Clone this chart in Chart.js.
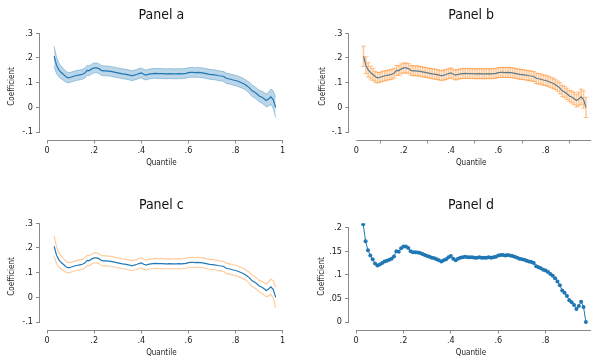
<!DOCTYPE html>
<html>
<head>
<meta charset="utf-8">
<title>Quantile coefficients</title>
<script src="https://cdn.jsdelivr.net/npm/chart.js@4.4.0/dist/chart.umd.min.js"></script>
<style>
  body { margin: 0; width: 591px; height: 356px; overflow: hidden; background: #fff; position: relative; }
  .panel { position: absolute; }
</style>
</head>
<body>
<div class="panel" style="left:0;top:0"><canvas id="panelA" width="295" height="178"></canvas></div>
<div class="panel" style="left:295px;top:0"><canvas id="panelB" width="310" height="178"></canvas></div>
<div class="panel" style="left:0;top:190px"><canvas id="panelC" width="295" height="178"></canvas></div>
<div class="panel" style="left:295px;top:190px"><canvas id="panelD" width="310" height="178"></canvas></div>
<script>
// quantile grid
const quantiles = [
  0.03, 0.04, 0.05, 0.06, 0.07, 0.08, 0.09, 0.10, 0.11, 0.12,
  0.13, 0.14, 0.15, 0.16, 0.17, 0.18, 0.19, 0.20, 0.21, 0.22,
  0.23, 0.24, 0.25, 0.26, 0.27, 0.28, 0.29, 0.30, 0.31, 0.32,
  0.33, 0.34, 0.35, 0.36, 0.37, 0.38, 0.39, 0.40, 0.41, 0.42,
  0.43, 0.44, 0.45, 0.46, 0.47, 0.48, 0.49, 0.50, 0.51, 0.52,
  0.53, 0.54, 0.55, 0.56, 0.57, 0.58, 0.59, 0.60, 0.61, 0.62,
  0.63, 0.64, 0.65, 0.66, 0.67, 0.68, 0.69, 0.70, 0.71, 0.72,
  0.73, 0.74, 0.75, 0.76, 0.77, 0.78, 0.79, 0.80, 0.81, 0.82,
  0.83, 0.84, 0.85, 0.86, 0.87, 0.88, 0.89, 0.90, 0.91, 0.92,
  0.93, 0.94, 0.95, 0.96, 0.97
];

// point estimate
const coef = [
  0.207, 0.171, 0.152, 0.141, 0.133, 0.124, 0.120, 0.122, 0.125, 0.128,
  0.130, 0.132, 0.134, 0.139, 0.150, 0.149, 0.156, 0.160, 0.160, 0.157,
  0.150, 0.148, 0.148, 0.147, 0.146, 0.144, 0.142, 0.140, 0.138, 0.136,
  0.135, 0.133, 0.131, 0.128, 0.131, 0.133, 0.137, 0.140, 0.134, 0.131,
  0.134, 0.136, 0.137, 0.138, 0.137, 0.137, 0.137, 0.136, 0.136, 0.137,
  0.136, 0.136, 0.136, 0.137, 0.136, 0.137, 0.138, 0.141, 0.142, 0.142,
  0.141, 0.142, 0.141, 0.140, 0.138, 0.136, 0.134, 0.133, 0.132, 0.130,
  0.128, 0.127, 0.125, 0.118, 0.116, 0.114, 0.111, 0.109, 0.106, 0.102,
  0.098, 0.093, 0.086, 0.078, 0.067, 0.062, 0.055, 0.046, 0.042, 0.036,
  0.028, 0.034, 0.043, 0.032, 0.000
];

// confidence interval, lower bound
const ciLow = [
  0.166, 0.137, 0.123, 0.115, 0.109, 0.102, 0.099, 0.102, 0.105, 0.108,
  0.110, 0.112, 0.114, 0.119, 0.130, 0.129, 0.136, 0.140, 0.140, 0.137,
  0.130, 0.128, 0.128, 0.127, 0.126, 0.124, 0.122, 0.120, 0.118, 0.116,
  0.115, 0.113, 0.111, 0.108, 0.111, 0.113, 0.117, 0.120, 0.114, 0.111,
  0.114, 0.116, 0.117, 0.118, 0.117, 0.117, 0.117, 0.116, 0.116, 0.117,
  0.116, 0.116, 0.116, 0.117, 0.116, 0.117, 0.118, 0.121, 0.122, 0.122,
  0.121, 0.122, 0.121, 0.120, 0.118, 0.116, 0.114, 0.113, 0.112, 0.110,
  0.108, 0.107, 0.105, 0.097, 0.095, 0.093, 0.090, 0.088, 0.085, 0.081,
  0.077, 0.072, 0.065, 0.055, 0.044, 0.039, 0.032, 0.023, 0.018, 0.011,
  0.002, 0.006, 0.012, -0.003, -0.041
];

// confidence interval, upper bound
const ciHigh = [
  0.248, 0.205, 0.181, 0.167, 0.157, 0.146, 0.141, 0.142, 0.145, 0.148,
  0.150, 0.152, 0.154, 0.159, 0.170, 0.169, 0.176, 0.180, 0.180, 0.177,
  0.170, 0.168, 0.168, 0.167, 0.166, 0.164, 0.162, 0.160, 0.158, 0.156,
  0.155, 0.153, 0.151, 0.148, 0.151, 0.153, 0.157, 0.160, 0.154, 0.151,
  0.154, 0.156, 0.157, 0.158, 0.157, 0.157, 0.157, 0.156, 0.156, 0.157,
  0.156, 0.156, 0.156, 0.157, 0.156, 0.157, 0.158, 0.161, 0.162, 0.162,
  0.161, 0.162, 0.161, 0.160, 0.158, 0.156, 0.154, 0.153, 0.152, 0.150,
  0.148, 0.147, 0.145, 0.139, 0.137, 0.135, 0.132, 0.130, 0.127, 0.123,
  0.119, 0.114, 0.107, 0.101, 0.090, 0.085, 0.078, 0.069, 0.066, 0.061,
  0.054, 0.062, 0.074, 0.067, 0.041
];

const xTicks = [0, 0.2, 0.4, 0.6, 0.8, 1];
const yTicks = [-0.1, 0, 0.1, 0.2, 0.3];
const yTicksD = [0, 0.05, 0.1, 0.15, 0.2];

const FONT = "'Liberation Sans Narrow', 'Arial Narrow', 'DejaVu Sans Condensed', sans-serif";
const TXT = '#222';
const AXIS = '#8a8a8a';
const BLUE = '#1f77b4';
const BAND_FILL = 'rgba(31,119,180,0.30)';
const BAND_EDGE = 'rgba(31,119,180,0.35)';
const ORANGE = 'rgba(255,127,14,0.40)';

const pts = ys => quantiles.map((q, i) => ({ x: q, y: ys[i] }));

// stata style numbers: .2, -.1, 0, 1
const stataNum = v => (v === 0 ? '0' : String(v).replace('0.', '.'));

// axis lines only span the tick range, like stata
const axisLines = {
  id: 'axisLines',
  afterDraw(chart) {
    const { ctx, chartArea, scales: { x, y } } = chart;
    const xs = x.ticks.map(t => x.getPixelForValue(t.value));
    const ys = y.ticks.map(t => y.getPixelForValue(t.value));
    const left = Math.round(chartArea.left) - 0.5;
    const bottom = Math.round(chartArea.bottom) + 0.5;
    ctx.save();
    ctx.strokeStyle = AXIS;
    ctx.lineWidth = 1;
    ctx.beginPath();
    ctx.moveTo(left, Math.min(...ys));
    ctx.lineTo(left, Math.max(...ys));
    ctx.moveTo(Math.min(...xs), bottom);
    ctx.lineTo(Math.max(...xs), bottom);
    ctx.stroke();
    ctx.restore();
  }
};

function makeOptions(p) {
  return {
    responsive: false,
    animation: false,
    layout: { padding: { left: 0, right: p.right, top: 0, bottom: 0 } },
    plugins: {
      legend: { display: false },
      tooltip: { enabled: false },
      title: {
        display: true, text: p.title, fullSize: false, color: '#111',
        font: { family: FONT, size: 14, weight: 'normal' },
        padding: { top: 6.6, bottom: 9.9 }
      }
    },
    scales: {
      x: {
        type: 'linear', min: -0.03, max: 1, offset: false,
        afterBuildTicks: s => { s.ticks = xTicks.map(v => ({ value: v })); },
        afterFit: s => { s.height = 38.5; },
        grid: { drawOnChartArea: false, tickLength: 4, color: AXIS },
        border: { display: false },
        ticks: { callback: stataNum, autoSkip: false, maxRotation: 0, padding: 2, color: TXT, font: { family: FONT, size: 9 } },
        title: { display: true, text: 'Quantile', color: TXT, font: { family: FONT, size: 8 }, padding: { top: 0, bottom: 10.5 } }
      },
      y: {
        type: 'linear', min: p.yMin, max: p.yMax,
        afterBuildTicks: s => { s.ticks = p.yTicks.map(v => ({ value: v })); },
        afterFit: s => { s.width = p.yWidth; },
        grid: { drawOnChartArea: false, tickLength: 4, color: AXIS },
        border: { display: false },
        ticks: { callback: stataNum, autoSkip: false, padding: 3, color: TXT, font: { family: FONT, size: 9 } },
        title: { display: true, text: 'Coefficient', color: TXT, font: { family: FONT, size: 8 }, padding: { top: p.yTitlePad, bottom: 0 } }
      }
    }
  };
}

// Panel a : shaded band
new Chart(document.getElementById('panelA'), {
  type: 'line',
  data: {
    datasets: [
      { data: pts(ciLow), borderColor: BAND_EDGE, borderWidth: 1, pointRadius: 0, fill: false },
      { data: pts(ciHigh), borderColor: BAND_EDGE, borderWidth: 1, pointRadius: 0, fill: '-1', backgroundColor: BAND_FILL },
      { data: pts(coef), borderColor: BLUE, borderWidth: 1.2, pointRadius: 0, fill: false }
    ]
  },
  options: makeOptions({ title: 'Panel a', right: 12.3, yMin: -0.13, yMax: 0.3, yTicks, yWidth: 40, yTitlePad: 7.2 }),
  plugins: [axisLines]
});

// Panel b : error bars
new Chart(document.getElementById('panelB'), {
  type: 'line',
  data: {
    datasets: [
      { type: 'bar', data: quantiles.map((q, i) => ({ x: q, y: [ciLow[i], ciHigh[i]] })), backgroundColor: ORANGE, barThickness: 1, borderWidth: 0 },
      { data: pts(ciLow), showLine: false, pointStyle: 'line', pointRadius: 2.5, pointBorderColor: ORANGE, pointBorderWidth: 1 },
      { data: pts(ciHigh), showLine: false, pointStyle: 'line', pointRadius: 2.5, pointBorderColor: ORANGE, pointBorderWidth: 1 },
      { data: pts(coef), borderColor: BLUE, borderWidth: 1.2, pointRadius: 0, fill: false }
    ]
  },
  options: makeOptions({ title: 'Panel b', right: 12, yMin: -0.13, yMax: 0.3, yTicks, yWidth: 54.3, yTitlePad: 23.2 }),
  plugins: [axisLines]
});

// Panel c : bounds as lines
new Chart(document.getElementById('panelC'), {
  type: 'line',
  data: {
    datasets: [
      { data: pts(ciLow), borderColor: ORANGE, borderWidth: 1.2, pointRadius: 0, fill: false },
      { data: pts(ciHigh), borderColor: ORANGE, borderWidth: 1.2, pointRadius: 0, fill: false },
      { data: pts(coef), borderColor: BLUE, borderWidth: 1.2, pointRadius: 0, fill: false }
    ]
  },
  options: makeOptions({ title: 'Panel c', right: 12.3, yMin: -0.13, yMax: 0.3, yTicks, yWidth: 40, yTitlePad: 7.2 }),
  plugins: [axisLines]
});

// Panel d : estimate only, with markers
new Chart(document.getElementById('panelD'), {
  type: 'line',
  data: {
    datasets: [
      { data: pts(coef), borderColor: BLUE, borderWidth: 1, pointRadius: 2, pointBackgroundColor: BLUE, pointBorderWidth: 0, fill: false }
    ]
  },
  options: makeOptions({ title: 'Panel d', right: 12, yMin: -0.0156, yMax: 0.209, yTicks: yTicksD, yWidth: 54, yTitlePad: 21.9 }),
  plugins: [axisLines]
});
</script>
</body>
</html>
